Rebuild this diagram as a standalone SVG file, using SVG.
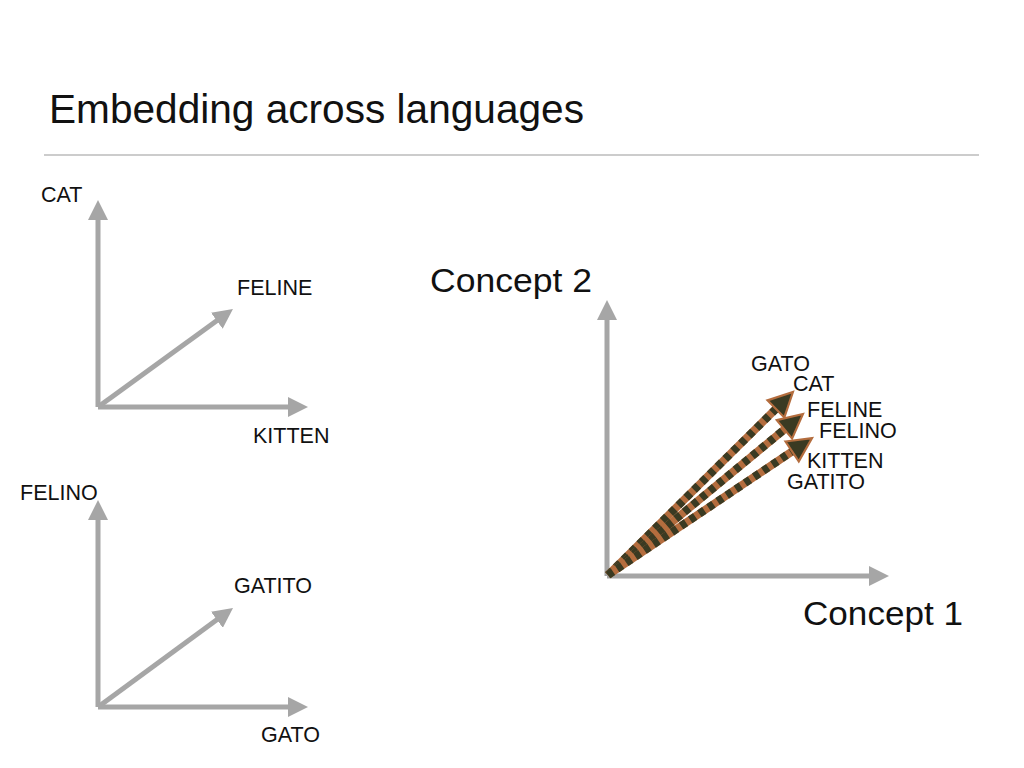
<svg xmlns="http://www.w3.org/2000/svg" width="1024" height="768" viewBox="0 0 1024 768">
<style>
text{font-family:"Liberation Sans",Arial,Helvetica,sans-serif;fill:#111}
.lbl{font-size:21.5px}
.big{font-size:33px}
.ax{stroke:#a6a6a6;stroke-width:5;fill:none;marker-end:url(#ga)}
.vb{stroke:#b46d3e;stroke-width:8;fill:none}
.vd{stroke:#3a3a22;stroke-width:8;fill:none;stroke-dasharray:6 5;marker-end:url(#da)}
</style>
<defs>
<marker id="ga" markerUnits="userSpaceOnUse" markerWidth="20" markerHeight="20" viewBox="0 0 20 20" refX="2" refY="10" orient="auto">
<path d="M0,0 L20,10 L0,20 z" fill="#a6a6a6"/>
</marker>
<marker id="da" markerUnits="userSpaceOnUse" markerWidth="24" markerHeight="24" viewBox="0 0 20 20" refX="2" refY="10" orient="auto" overflow="visible">
<path d="M0,0 L20,10 L0,20 z" fill="#3a3a22" stroke="#b46d3e" stroke-width="1.8" stroke-linejoin="miter"/>
</marker>
</defs>
<rect width="1024" height="768" fill="#fff"/>
<g id="title">
<text x="49" y="123" style="font-size:41px" textLength="535" lengthAdjust="spacingAndGlyphs">Embedding across languages</text>
<line x1="44" y1="155" x2="979" y2="155" stroke="#cccccc" stroke-width="2"/>
</g>
<g id="connectors">
<line class="ax" x1="98" y1="407" x2="98" y2="218"/>
<line class="ax" x1="98" y1="407" x2="290" y2="407"/>
<line class="ax" x1="98" y1="407" x2="218.4" y2="319.6"/>
<line class="ax" x1="98" y1="707" x2="98" y2="518"/>
<line class="ax" x1="98" y1="707" x2="290" y2="707"/>
<line class="ax" x1="98" y1="707" x2="218.5" y2="618.6"/>
<line class="ax" x1="607" y1="576" x2="607" y2="318"/>
<line class="ax" x1="607" y1="576" x2="871" y2="576"/>
<line class="vb" x1="608" y1="575" x2="777.6" y2="407.2"/>
<line class="vd" x1="608" y1="575" x2="777.6" y2="407.2"/>
<line class="vb" x1="608" y1="575" x2="786.3" y2="427.8"/>
<line class="vd" x1="608" y1="575" x2="786.3" y2="427.8"/>
<line class="vb" x1="608" y1="575" x2="794.1" y2="450.1"/>
<line class="vd" x1="608" y1="575" x2="794.1" y2="450.1"/>
</g>
<g id="chart-en">
<text class="lbl" x="41" y="202">CAT</text>
<text class="lbl" x="237" y="295">FELINE</text>
<text class="lbl" x="253" y="443">KITTEN</text>
</g>
<g id="chart-es">
<text class="lbl" x="20" y="500">FELINO</text>
<text class="lbl" x="234" y="593">GATITO</text>
<text class="lbl" x="261" y="742">GATO</text>
</g>
<g id="chart-shared">
<text class="big" x="430" y="292" textLength="162" lengthAdjust="spacingAndGlyphs">Concept 2</text>
<text class="big" x="803" y="625" textLength="160" lengthAdjust="spacingAndGlyphs">Concept 1</text>
<text class="lbl" x="751" y="371">GATO</text>
<text class="lbl" x="793" y="391">CAT</text>
<text class="lbl" x="807" y="417">FELINE</text>
<text class="lbl" x="819" y="438">FELINO</text>
<text class="lbl" x="807" y="468">KITTEN</text>
<text class="lbl" x="787" y="489">GATITO</text>
</g>
</svg>
